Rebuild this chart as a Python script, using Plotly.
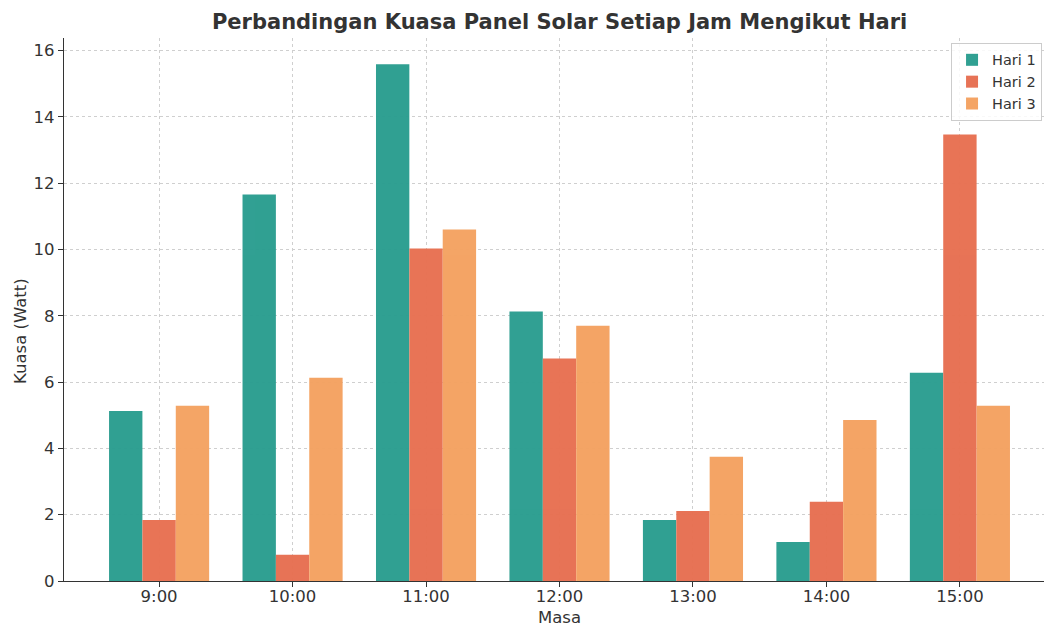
import plotly.graph_objects as go

categories = ["9:00", "10:00", "11:00", "12:00", "13:00", "14:00", "15:00"]
hari1 = [5.13, 11.66, 15.59, 8.13, 1.84, 1.18, 6.28]
hari2 = [1.84, 0.79, 10.03, 6.71, 2.11, 2.39, 13.47]
hari3 = [5.29, 6.13, 10.60, 7.70, 3.75, 4.86, 5.29]
series_names = ["Hari 1", "Hari 2", "Hari 3"]
colors = ["#2a9d8f", "#e76f51", "#f4a261"]

fig = go.Figure()
for name, vals, c in zip(series_names, [hari1, hari2, hari3], colors):
    fig.add_trace(go.Bar(x=categories, y=vals, name=name, opacity=0.97,
                         marker=dict(color=c, line=dict(width=0))))

font = "DejaVu Sans"
fig.update_layout(
    width=1044, height=626,
    margin=dict(l=64, r=0, t=38, b=45),
    plot_bgcolor="white", paper_bgcolor="white",
    barmode="group", bargap=0.25, bargroupgap=0,
    font=dict(family=font, color="#333333", size=16),
    title=dict(text="<b>Perbandingan Kuasa Panel Solar Setiap Jam Mengikut Hari</b>",
               xref="container", x=0.536, xanchor="center", y=0.966, yanchor="middle",
               font=dict(size=21, color="#333333", family=font)),
    legend=dict(x=0.998, xanchor="right", y=0.991, yanchor="top",
                bgcolor="rgba(255,255,255,0.85)", bordercolor="#cccccc", borderwidth=1,
                tracegroupgap=2, font=dict(size=14.5, color="#333333")),
    xaxis=dict(
        type="category", range=[-0.7125, 6.63], automargin=False,
        showline=True, linecolor="#333333", linewidth=1.2,
        ticks="outside", ticklen=5, tickcolor="#333333",
        showgrid=True, gridcolor="#cfcfcf", griddash="3px,3px", gridwidth=1,
        tickfont=dict(size=16.5), ticklabelstandoff=-5,
    ),
    yaxis=dict(
        range=[0, 16.38], tickvals=[0, 2, 4, 6, 8, 10, 12, 14, 16], automargin=False,
        showline=True, linecolor="#333333", linewidth=1.2,
        ticks="outside", ticklen=5, tickcolor="#333333",
        showgrid=True, gridcolor="#cfcfcf", griddash="3px,3px", gridwidth=1,
        zeroline=False,
        tickfont=dict(size=16.5),
    ),
    annotations=[
        dict(text="Masa", xref="paper", yref="paper", x=0.506, y=-36/543,
             xanchor="center", yanchor="middle", showarrow=False,
             font=dict(size=16.5, color="#333333")),
        dict(text="Kuasa (Watt)", xref="paper", yref="paper", x=-44/980, y=(581-331)/543,
             xanchor="center", yanchor="middle", showarrow=False, textangle=-90,
             font=dict(size=16.5, color="#333333")),
    ],
)
fig.write_html("out.html")
